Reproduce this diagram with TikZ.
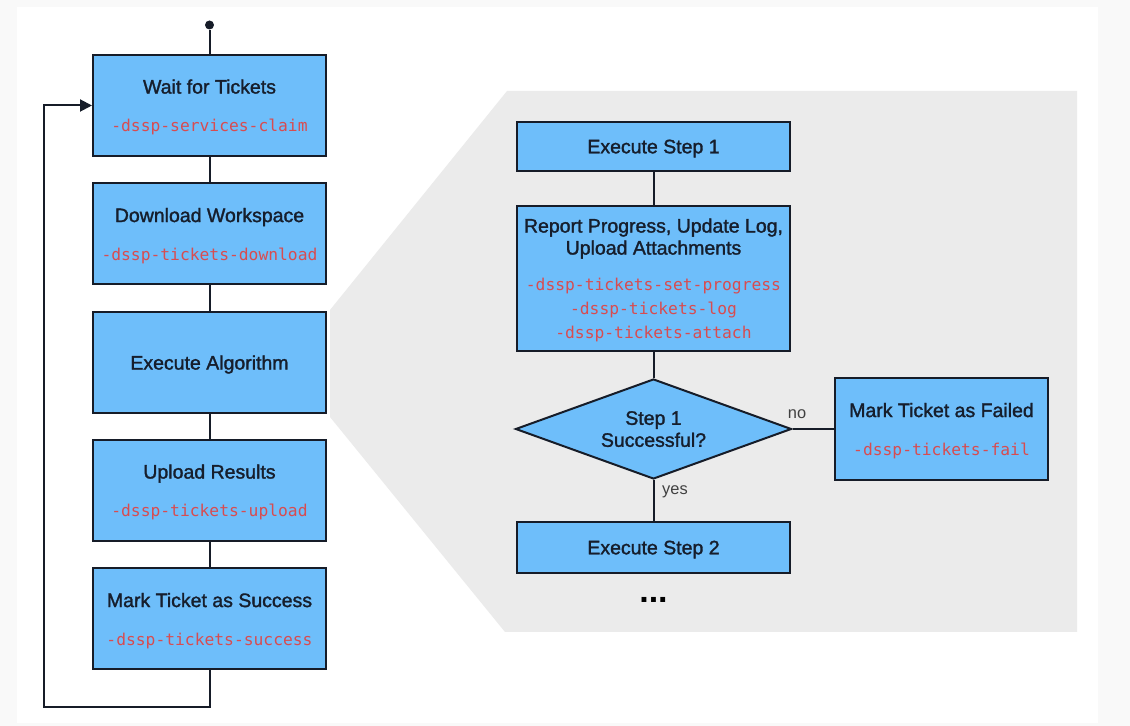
\documentclass[tikz,border=0pt]{standalone}
\usepackage{fontspec}
\setmainfont{Liberation Sans}
\newfontfamily\labelfont{Liberation Sans}[FakeBold=1.5]
\newfontfamily\codefont{DejaVu Sans Mono}
\usetikzlibrary{shapes.geometric,arrows.meta}

\definecolor{boxblue}{RGB}{110,190,250}
\definecolor{boxline}{RGB}{22,28,40}
\definecolor{codered}{RGB}{216,76,80}
\definecolor{panelgray}{RGB}{235,235,235}
\definecolor{pagegray}{RGB}{249,249,249}
\definecolor{labeltext}{RGB}{22,30,44}

\newcommand{\cmdname}[1]{{\codefont\fontsize{8.15pt}{10pt}\selectfont\color{codered}#1}}

\tikzset{
  task/.style={draw=boxline, fill=boxblue, line width=1pt, inner sep=0pt, align=center,
    text=labeltext, font=\labelfont\fontsize{9.75pt}{11pt}\selectfont, text depth=-2pt},
  oneline/.style={text depth=0pt},
  lefttask/.style={task, minimum width=116.5pt, minimum height=50.5pt},
  righttask/.style={task, minimum width=136.5pt},
  decision/.style={task, diamond, aspect=2.76, minimum width=138pt, minimum height=50pt, text depth=-5pt},
  branch/.style={inner sep=0pt, text=black!75, font=\fontsize{8.2pt}{10pt}\selectfont},
}

\begin{document}
\begin{tikzpicture}[x=0.5pt, y=-0.5pt]

\fill[pagegray] (0,0) rectangle (1130,726);
\fill[white] (17,7) rectangle (1098,723);
\useasboundingbox (0,0) rectangle (1130,726);

% zoomed-in panel behind the step loop
\fill[panelgray] (507,91) -- (1077,91) -- (1077,632) -- (505,632) -- (330,417) -- (330,310) -- cycle;

% main loop
\node[circle, fill=boxline, inner sep=0pt, minimum size=4.5pt] (start) at (209.5,25) {};
\node[lefttask] (wait) at (209.5,105.5) {Wait for Tickets\\[8pt]\cmdname{-dssp-services-claim}};
\node[lefttask] (download) at (209.5,234) {Download Workspace\\[8pt]\cmdname{-dssp-tickets-download}};
\node[lefttask, oneline] (execalg) at (209.5,362.5) {Execute Algorithm};
\node[lefttask] (upload) at (209.5,490.5) {Upload Results\\[8pt]\cmdname{-dssp-tickets-upload}};
\node[lefttask] (success) at (209.5,619) {Mark Ticket as Success\\[8pt]\cmdname{-dssp-tickets-success}};

% steps of the algorithm
\node[righttask, oneline, minimum height=24.5pt] (step1) at (653.5,146.5) {Execute Step 1};
\node[righttask, minimum height=72.5pt] (report) at (653.5,278.5) {Report Progress, Update Log,\\Upload Attachments\\[7pt]\cmdname{-dssp-tickets-set-progress}\\[1pt]\cmdname{-dssp-tickets-log}\\[1pt]\cmdname{-dssp-tickets-attach}};
\node[decision] (check) at (653.5,429) {Step 1\\Successful?};
\node[righttask, oneline, minimum height=25.5pt] (step2) at (653.5,547.5) {Execute Step 2};
\node[task, minimum width=106.5pt, minimum height=51pt] (failed) at (941.5,429) {Mark Ticket as Failed\\[8pt]\cmdname{-dssp-tickets-fail}};
\node[inner sep=0pt, font=\fontsize{17pt}{17pt}\selectfont\bfseries] (more) at (653.5,600) {...};

\node[branch] (nolabel) at (797,414) {no};
\node[branch] (yeslabel) at (675,492) {yes};

\coordinate (loopcorner) at (44,707);

\begin{scope}[line width=1pt, draw=boxline]
\draw (start) -- (wait); %start-wait
\draw (wait) -- (download); %wait-download
\draw (download) -- (execalg); %download-execalg
\draw (execalg) -- (upload); %execalg-upload
\draw (upload) -- (success); %upload-success
\draw[-{Triangle[length=6pt,width=6pt]}] (success.south) |- (loopcorner) |- (wait.west); %success-wait
\draw (step1) -- (report); %step1-report
\draw (report) -- (check); %report-check
\draw (check) -- (step2); %check-step2
\draw (check.east) -- (failed.west); %check-failed
\end{scope}

\end{tikzpicture}
\end{document}
